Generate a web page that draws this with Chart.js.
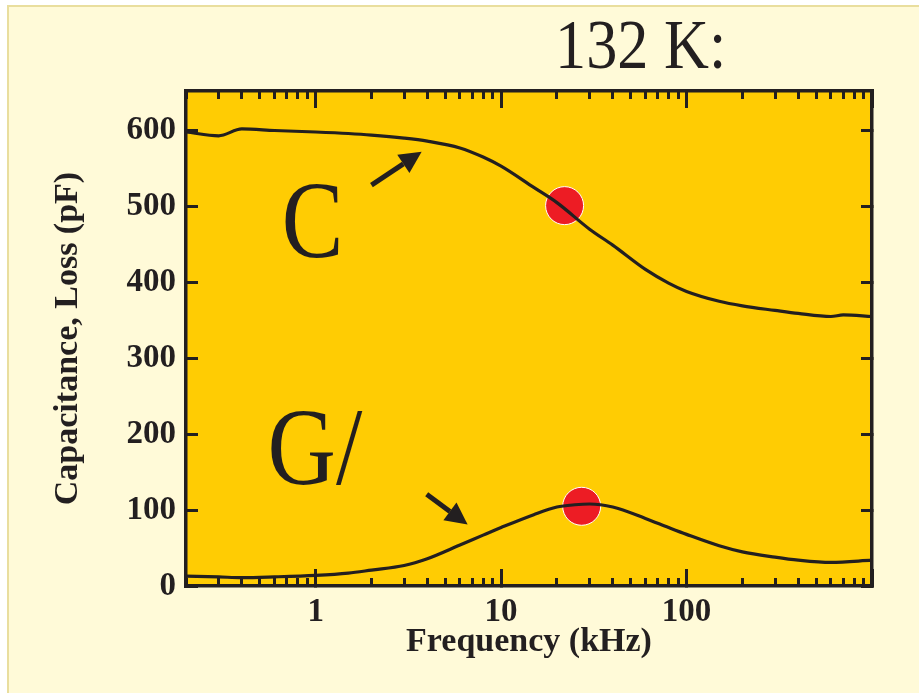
<!DOCTYPE html>
<html><head><meta charset="utf-8">
<script src="https://cdn.jsdelivr.net/npm/chart.js@4"></script>
<style>html,body{margin:0;padding:0;background:#fff;overflow:hidden}
#wrap{position:absolute;left:0;top:0;width:919px;height:693px}
</style></head><body><div id="wrap"><canvas id="c" width="919" height="693"></canvas></div>
<script>
// ---- data ----
const freqC = [0.2,0.3,0.4,0.6,1,1.5,2,3,4,6,8,10,15,20,30,40,60,80,100,150,200,300,400,600,700,1000];
const capC  = [598,593,602,600,598,596,594,590,586,577,565,553,525,505,470,449,417,399,388,375,369,363,359,355,357,355];
const freqG = [0.2,0.3,0.4,0.6,1,1.5,2,3,4,6,8,10,15,20,25,30,40,60,80,100,150,200,300,400,600,1000];
const lossG = [13,12,11,12,14,17,21,27,36,54,67,77,94,104,107,108,104,89,77,68,53,45,38,34,31,34];
const markerFreq = [22, 27.2];
const markerVal  = [501, 105];
const yTickVals = [0,100,200,300,400,500,600];
const xTickLabels = [1,10,100];
const titleText = '132 K:';

const INK = '#231F20';
const SERIF = '"Liberation Serif", "Times New Roman", serif';
const tickFont = {family: SERIF, size: 33, weight: 'bold'};
const axisTitleFont = {family: SERIF, size: 34, weight: 'bold'};

function logTicks(){
  const out=[];
  for(let e=-1;e<=2;e++){for(let k=1;k<=9;k++){const v=Number((k*Math.pow(10,e)).toPrecision(6)); if(v>=0.2&&v<=1000) out.push({value:v});}}
  out.push({value:1000});
  return out;
}
const isPow10 = v => Math.abs(Math.log10(v)-Math.round(Math.log10(v)))<1e-9;

function xScale(pos, major, labels){
  return {
    type:'logarithmic', position:pos, min:0.2, max:1000, weight: labels?1:0,
    afterBuildTicks: s => { s.ticks = logTicks(); },
    afterFit: s => { s.height = labels ? 107 : 0; },
    ticks:{display:labels, autoSkip:false, maxRotation:0, minRotation:0, padding:24, font:tickFont, color:INK,
      callback:(v)=> xTickLabels.includes(Number(v.toPrecision? v.toPrecision(6):v)) ? String(v) : ''},
    grid:{drawOnChartArea:false, drawTicks:true, tickLength: major?-17:-8, tickWidth:3,
      tickColor: ctx => { const v=ctx.tick&&ctx.tick.value; const p=isPow10(v); return (major?p:!p)?INK:'rgba(0,0,0,0)'; }},
    border:{display:major, color:INK, width:3.5},
    title: labels ? {display:true, text:'Frequency (kHz)', font:axisTitleFont, color:INK, padding:{top:0,bottom:30}} : {display:false}
  };
}

const bgPlugin = {
  id:'bg',
  beforeDraw(chart){
    const ctx=chart.ctx, a=chart.chartArea;
    ctx.save();
    ctx.fillStyle='#ffffff'; ctx.fillRect(0,0,919,693);
    ctx.fillStyle='#FFFAD8'; ctx.fillRect(8,6,911,687);
    ctx.strokeStyle='#E9DE9E'; ctx.lineWidth=2;
    ctx.beginPath(); ctx.moveTo(8,693); ctx.lineTo(8,6); ctx.lineTo(919,6); ctx.stroke();
    ctx.fillStyle='#FFCC03'; ctx.fillRect(a.left,a.top,a.right-a.left,a.bottom-a.top);
    ctx.restore();
  }
};

function arrow(ctx,x1,y1,x2,y2){
  const ang=Math.atan2(y2-y1,x2-x1), L=22, W=11;
  const bx=x2-L*Math.cos(ang), by=y2-L*Math.sin(ang);
  ctx.beginPath(); ctx.moveTo(x1,y1); ctx.lineTo(bx,by); ctx.lineWidth=5; ctx.strokeStyle=INK; ctx.stroke();
  ctx.beginPath(); ctx.moveTo(x2,y2);
  ctx.lineTo(bx+W*Math.sin(ang), by-W*Math.cos(ang));
  ctx.lineTo(bx-W*Math.sin(ang), by+W*Math.cos(ang));
  ctx.closePath(); ctx.fillStyle=INK; ctx.fill();
}
function condText(ctx,txt,x,y,size,sx){
  ctx.save(); ctx.translate(x,y); ctx.scale(sx,1);
  ctx.font = size+'px '+SERIF; ctx.fillStyle=INK; ctx.textAlign='left'; ctx.textBaseline='alphabetic';
  ctx.fillText(txt,0,0); ctx.restore();
}
const annPlugin = {
  id:'ann',
  afterDatasetsDraw(chart){
    const ctx=chart.ctx, X=chart.scales.x, Y=chart.scales.y;
    const px=v=>X.getPixelForValue(v), py=v=>Y.getPixelForValue(v);
    ctx.save();
    arrow(ctx, px(2.0), py(528), px(3.73), py(572));
    arrow(ctx, px(3.97), py(121), px(6.6), py(81));
    condText(ctx,'C', px(0.656), py(433), 110, 0.84);
    condText(ctx,'G/', px(0.551), py(134), 110, 0.86);
    ctx.restore();
  },
  afterDraw(chart){
    condText(chart.ctx, titleText, 555, 68, 70, 0.89);
  }
};

new Chart(document.getElementById('c'), {
  type:'line',
  data:{datasets:[
    {label:'C', data: freqC.map((f,i)=>({x:f,y:capC[i]})), borderColor:INK, borderWidth:3.2, pointRadius:0, cubicInterpolationMode:'monotone', fill:false, order:1, xAxisID:'x', yAxisID:'y'},
    {label:'G/ω', data: freqG.map((f,i)=>({x:f,y:lossG[i]})), borderColor:INK, borderWidth:3.2, pointRadius:0, cubicInterpolationMode:'monotone', fill:false, order:1, xAxisID:'x', yAxisID:'y'},
    {type:'scatter', label:'markers', data: markerFreq.map((f,i)=>({x:f,y:markerVal[i]})), pointRadius:19, pointBackgroundColor:'#ED1C24', pointBorderColor:'#ffffff', pointBorderWidth:1, backgroundColor:'#ED1C24', borderColor:'#ffffff', order:2, xAxisID:'x', yAxisID:'y'}
  ]},
  options:{
    responsive:false, animation:false, devicePixelRatio:1,
    layout:{padding:{left:10, top:91, right:47, bottom:0}},
    plugins:{legend:{display:false}, tooltip:{enabled:false}, title:{display:false}},
    scales:{
      x: xScale('bottom', true, true),
      xm: xScale('bottom', false, false),
      xt: xScale('top', true, false),
      xtm: xScale('top', false, false),
      y: {type:'linear', position:'left', min:0, max:652,
        afterBuildTicks: s => { s.ticks = yTickVals.map(v=>({value:v})); },
        afterFit: s => { s.width = 176; },
        ticks:{font:tickFont, color:INK, padding:22},
        grid:{drawOnChartArea:false, tickLength:-12, tickWidth:3, tickColor:INK},
        border:{display:true, color:INK, width:3.5},
        title:{display:true, text:'Capacitance, Loss (pF)', font:axisTitleFont, color:INK, padding:{top:38,bottom:0}}
      },
      yr: {type:'linear', position:'right', min:0, max:652,
        afterBuildTicks: s => { s.ticks = yTickVals.map(v=>({value:v})); },
        afterFit: s => { s.width = 0; },
        ticks:{display:false},
        grid:{drawOnChartArea:false, tickLength:-11, tickWidth:3, tickColor:INK},
        border:{display:true, color:INK, width:3.5}
      }
    }
  },
  plugins:[bgPlugin, annPlugin]
});
</script></body></html>
